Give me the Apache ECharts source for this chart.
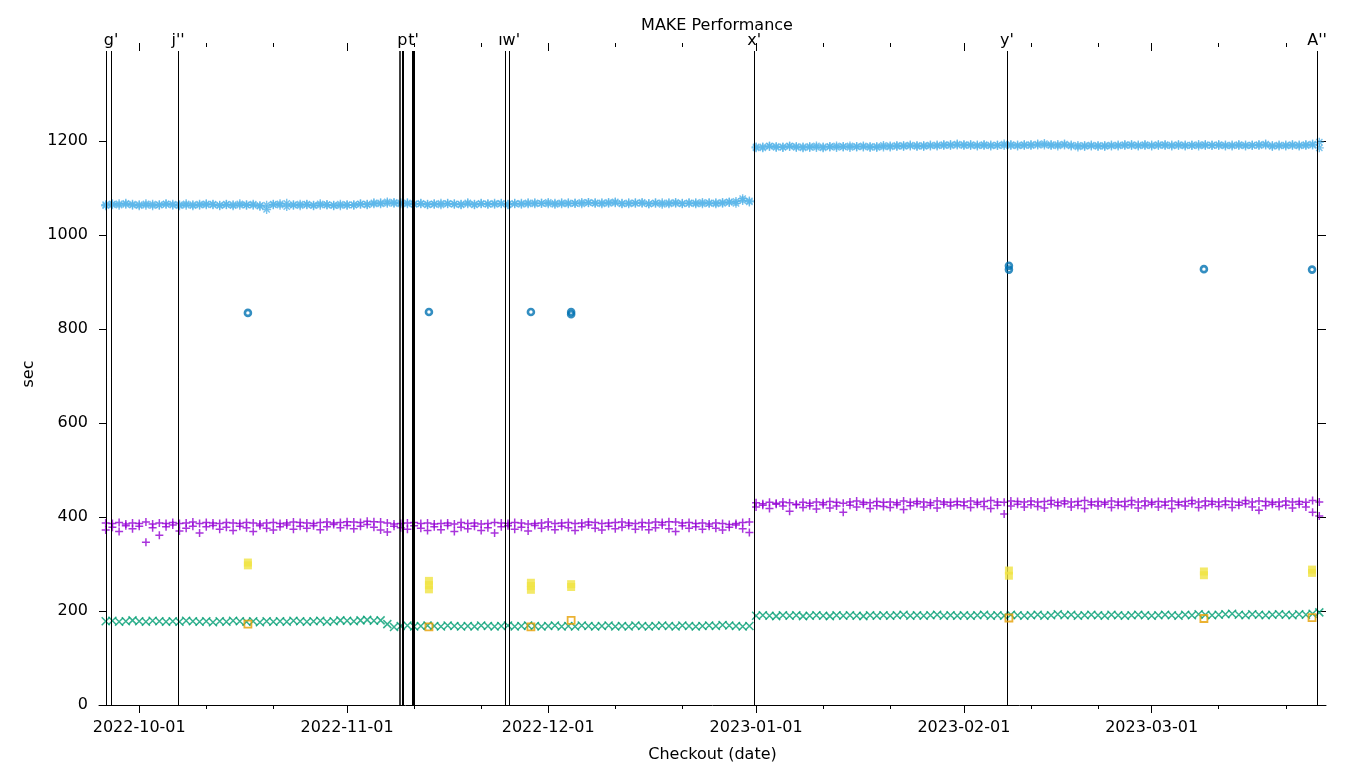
<!DOCTYPE html>
<html>
<head>
<meta charset="utf-8">
<script src="https://cdn.jsdelivr.net/npm/echarts@6/dist/echarts.min.js"></script>
<style>html,body{margin:0;padding:0;background:#fff}#c{width:1360px;height:768px}</style>
</head>
<body>
<div id="c"></div>
<script>
// ---------- data ----------
const firstDay = '2022-09-26';           // one checkout per day from here
const xMin = '2022-09-25';
const xMax = '2023-03-27';

const blueRuns = [
 1062,1064,1066,1065,1063,
 1064,1063,1062,1064,1065,1063,1062,1063,1064,1063,
 1064,1065,1063,1064,1062,1063,1064,1063,1062,1054,
 1064,1066,1060,1063,1065,1064,1062,1063,1064,1063,1062,
 1063,1064,1065,1064,1066,1068,1067,1069,1068,1066,
 1065,1066,1064,1065,1067,1066,1065,1064,1066,1065,
 1066,1065,1067,1066,1065,1066,1067,1066,1068,1067,
 1066,1067,1068,1066,1067,1069,1068,1067,1068,1069,
 1068,1067,1066,1068,1067,1066,1067,1068,1066,1067,
 1066,1067,1068,1066,1067,1068,1069,1070,1067,1077,1072,
 1185,1187,1188,1186,1187,1189,1186,1187,1188,1186,
 1187,1188,1186,1187,1189,1188,1187,1186,1188,1190,
 1189,1188,1190,1189,1188,1190,1191,1189,1190,1192,1191,
 1190,1192,1191,1190,1189,1191,1190,1192,1191,1190,
 1192,1193,1191,1190,1192,1191,1189,1190,1188,1189,
 1190,1188,1189,1191,1190,1192,1191,1190,
 1191,1190,1192,1191,1190,1189,1191,1192,1190,1191,
 1190,1191,1189,1190,1191,1190,1192,1191,1190,1189,
 1191,1190,1189,1192,1191,1197
];

const blueReruns = [
 1064,1066,1063,1067,1065,1062,1066,1065,1063,1066,
 1065,1064,1066,1062,1065,1066,1064,1062,1065,1064,
 1066,1063,1065,1061,1063,1065,1063,1067,1064,1062,
 1065,1063,1066,1064,1062,1065,1064,1063,1066,1065,
 1068,1066,1070,1067,1066,1068,1066,1067,1065,1066,
 1064,1067,1066,1065,1068,1064,1067,1066,1065,1067,
 1064,1067,1065,1068,1066,1067,1069,1065,1066,1068,
 1067,1066,1069,1068,1066,1067,1070,1066,1068,1067,
 1069,1066,1068,1065,1068,1069,1067,1068,1066,1069,
 1068,1066,1067,1069,1071,1073,1070,
 1187,1185,1189,1188,1186,1188,1188,1185,1186,1189,
 1185,1187,1189,1188,1186,1187,1189,1188,1186,1187,
 1187,1190,1188,1191,1190,1188,1189,1191,1192,1190,1193,
 1192,1190,1189,1192,1191,1190,1193,1190,1189,1192,
 1190,1191,1194,1192,1189,1193,1191,1187,1190,1191,
 1188,1190,1191,1189,1192,1190,1189,1192,
 1189,1192,1190,1189,1192,1191,1190,1189,1192,1190,
 1192,1189,1191,1192,1189,1191,1190,1193,1188,1191,
 1189,1192,1191,1190,1193,1185
];

const greenRuns = [
 178,179,177,178,180,178,177,179,178,177,
 178,177,179,178,177,178,176,178,177,179,
 178,177,178,176,178,177,178,177,179,178,
 177,178,179,177,178,180,179,178,180,181,179,180,172,166,
 168,169,167,168,169,168,167,169,168,167,
 168,167,169,168,167,168,169,167,168,169,
 168,167,168,169,167,168,167,169,168,167,
 168,169,167,168,167,169,168,167,168,169,
 168,167,169,168,167,168,169,168,170,169,168,167,168,
 190,191,190,189,191,190,191,189,190,191,
 190,189,191,190,191,190,189,191,190,191,
 190,191,192,190,191,190,191,192,190,191,190,
 191,190,191,192,190,191,190,192,191,190,
 191,192,190,191,193,191,192,190,191,192,
 191,190,192,191,190,191,192,191,
 190,191,192,191,190,192,191,193,192,191,
 192,193,194,192,191,193,192,191,192,193,
 192,191,193,192,194,197
];

const purpleRuns = [
 387,386,388,385,387,386,389,385,387,386,
 388,386,387,389,386,388,387,386,388,387,
 386,388,387,385,387,388,386,387,389,388,
 387,386,388,389,387,388,390,389,388,391,
 390,389,387,385,386,387,388,386,387,385,
 386,387,385,388,386,387,385,386,388,387,
 386,388,387,385,386,387,389,386,387,388,
 386,387,389,388,386,387,388,389,387,386,
 388,387,389,388,390,389,387,388,386,387,
 385,387,386,384,386,388,389,
 430,428,431,429,432,430,427,431,429,432,
 430,433,431,429,432,434,431,430,433,431,
 432,430,434,431,433,432,430,434,432,431,433,
 432,434,431,433,435,432,431,434,433,432,
 434,432,433,435,431,434,432,433,435,432,
 433,431,434,432,433,435,432,434,
 431,433,432,434,431,433,435,432,434,433,
 432,434,433,431,435,432,434,433,431,432,
 434,432,433,431,435,432
];

const purpleReruns = [
 372,378,369,381,375,380,346,377,361,379,
 383,370,376,380,366,379,382,374,378,371,
 380,377,369,381,376,372,379,383,374,380,
 376,381,373,379,384,377,382,375,380,384,
 378,372,368,380,377,374,381,376,371,379,
 373,382,369,378,375,380,371,377,366,379,
 381,374,378,370,382,376,379,373,380,377,
 371,379,383,376,372,380,375,378,382,374,
 379,373,377,383,375,369,381,376,379,374,
 380,376,372,378,383,375,367,
 421,425,418,427,423,412,426,420,424,417,
 426,419,423,410,425,421,427,418,424,422,
 420,426,416,424,428,421,425,419,427,423,426,
 424,420,427,422,418,425,406,423,427,421,
 426,422,419,427,424,428,421,425,418,426,
 423,427,420,425,422,426,419,424,
 427,421,425,418,426,423,428,420,424,427,
 422,426,420,425,428,421,414,424,427,422,
 425,419,427,421,410,402
];

const sparseDates = ['2022-10-17 05:00','2022-11-13 05:00','2022-11-28 10:00','2022-12-04 10:00',
                     '2023-02-07 17:00','2023-03-08 19:00','2023-03-24 22:00'];
const circleRuns = [[834],[836],[836],[831,836],[926,934],[927],[926]];
const yellowRuns = [[297,303],[246,255,264],[245,253,260],[251,257],[275,286],[276,284],[281,288]];
const orangeRuns = [172,166,166,180,185,184,186];

const releaseDates = ['2022-09-26 01:00','2022-09-26 19:00','2022-10-06 19:00',
                      '2022-11-08 20:00','2022-11-09 06:00','2022-11-10 22:00',
                      '2022-11-24 15:00','2022-11-25 04:00','2022-12-31 17:00',
                      '2023-02-07 10:00','2023-03-25 16:00'];
const releaseLabels = ['', "g'", "j''", '', 'p', "t'", '', "ıw'", "x'", "y'", "A''"];
const releaseTop = 1391;

const monthTicks = ['2022-10-01','2022-11-01','2022-12-01','2023-01-01','2023-02-01','2023-03-01'];
const minorTicks = ['2022-10-11','2022-10-21','2022-11-11','2022-11-21','2022-12-11','2022-12-21',
                    '2023-01-11','2023-01-21','2023-02-11','2023-02-21','2023-03-11','2023-03-21'];
const yTicks = [0,200,400,600,800,1000,1200];
const yMax = 1408;

// ---------- helpers ----------
function ts(s){ return new Date(s.length === 10 ? s + 'T00:00:00' : s.replace(' ','T') + ':00').getTime(); }
const DAY = 86400000;
const t0 = ts(firstDay);
const daily = arr => arr.map((v,i) => [t0 + i*DAY, v]);
const sparse = arr => { const out=[]; arr.forEach((vs,i)=>{ [].concat(vs).forEach(v=>out.push([ts(sparseDates[i]), v])); }); return out; };
function fmt(v){ const d=new Date(v); const p=n=>String(n).padStart(2,'0'); return d.getFullYear()+'-'+p(d.getMonth()+1)+'-'+p(d.getDate()); }

const lineWidthFor = {'2022-11-08 20:00':1.5,'2022-11-09 06:00':2,'2022-11-10 22:00':3};

const FONT = 'DejaVu Sans';
const PLUS = 'path://M0,5L10,5M5,0L5,10';
const CROSS = 'path://M0,0L10,10M10,0L0,10';
const STAR = 'path://M0,5L10,5M5,0L5,10M1.5,1.5L8.5,8.5M8.5,1.5L1.5,8.5';

const strokeSym = (c, w) => ({ color: c, borderColor: c, borderWidth: w });

const baseX = {
  type: 'value', min: ts(xMin), max: ts(xMax), gridIndex: 0, scale: true,
  splitLine: { show: false }, axisPointer: { show: false }
};

const chart = echarts.init(document.getElementById('c'));
chart.setOption({
  animation: false,
  backgroundColor: '#fff',
  textStyle: { fontFamily: FONT },
  title: {
    text: 'MAKE Performance', left: 712, top: 13, textAlign: 'center',
    textStyle: { fontFamily: FONT, fontSize: 16, fontWeight: 'normal', color: '#000' }
  },
  grid: { left: 99, right: 34, top: 43, bottom: 62, containLabel: false },
  xAxis: [
    Object.assign({}, baseX, {
      position: 'bottom',
      name: 'Checkout (date)', nameLocation: 'middle', nameGap: 42,
      nameTextStyle: { fontFamily: FONT, fontSize: 16, color: '#000' },
      axisLine: { show: true, onZero: false, lineStyle: { color: '#000', width: 1 } },
      axisTick: { show: true, inside: false, length: 8, customValues: monthTicks.map(ts), lineStyle: { color: '#000' } },
      axisLabel: { show: true, customValues: monthTicks.map(ts), formatter: v => fmt(v), margin: 15,
                   fontFamily: FONT, fontSize: 16, color: '#000' }
    }),
    Object.assign({}, baseX, {
      position: 'bottom',
      axisLine: { show: false, onZero: false },
      axisTick: { show: true, inside: false, length: 4, customValues: minorTicks.map(ts), lineStyle: { color: '#000' } },
      axisLabel: { show: false, customValues: minorTicks.map(ts) }
    }),
    Object.assign({}, baseX, {
      position: 'top',
      axisLine: { show: false, onZero: false },
      axisTick: { show: true, inside: true, length: 8, customValues: monthTicks.map(ts), lineStyle: { color: '#000' } },
      axisLabel: { show: false, customValues: monthTicks.map(ts) }
    }),
    Object.assign({}, baseX, {
      position: 'top',
      axisLine: { show: false, onZero: false },
      axisTick: { show: true, inside: true, length: 4, customValues: minorTicks.map(ts), lineStyle: { color: '#000' } },
      axisLabel: { show: false, customValues: minorTicks.map(ts) }
    })
  ],
  yAxis: [
    {
      type: 'value', min: 0, max: yMax, position: 'left',
      name: 'sec', nameLocation: 'middle', nameGap: 61,
      nameTextStyle: { fontFamily: FONT, fontSize: 16, color: '#000' },
      axisLine: { show: false },
      axisTick: { show: true, inside: true, length: 7, customValues: yTicks, lineStyle: { color: '#000' } },
      axisLabel: { show: true, customValues: yTicks, formatter: v => String(v), margin: 11,
                   fontFamily: FONT, fontSize: 16, color: '#000' },
      splitLine: { show: false }
    },
    {
      type: 'value', min: 0, max: yMax, position: 'right',
      axisLine: { show: false },
      axisTick: { show: true, inside: true, length: 8, customValues: yTicks, lineStyle: { color: '#000' } },
      axisLabel: { show: false, customValues: yTicks },
      splitLine: { show: false }
    }
  ],
  series: [
    { type: 'scatter', name: 'purple', data: daily(purpleRuns).concat(daily(purpleReruns)),
      symbol: PLUS, symbolSize: 8, itemStyle: strokeSym('#9400d3', 1.5), z: 2 },
    { type: 'scatter', name: 'green', data: daily(greenRuns),
      symbol: CROSS, symbolSize: 8, itemStyle: strokeSym('#009e73', 1.5), z: 3 },
    { type: 'scatter', name: 'blue', data: daily(blueRuns).concat(daily(blueReruns)),
      symbol: STAR, symbolSize: 9, itemStyle: strokeSym('#56b4e9', 1.4), z: 4 },
    { type: 'scatter', name: 'orange', data: sparse(orangeRuns),
      symbol: 'rect', symbolSize: 7, itemStyle: { color: 'rgba(0,0,0,0)', borderColor: '#e69f00', borderWidth: 1.8 }, z: 5 },
    { type: 'scatter', name: 'yellow', data: sparse(yellowRuns),
      symbol: 'rect', symbolSize: 8, itemStyle: { color: '#f0e442' }, z: 6 },
    { type: 'scatter', name: 'darkblue', data: sparse(circleRuns),
      symbol: 'circle', symbolSize: 6, itemStyle: { color: 'rgba(0,0,0,0)', borderColor: '#0072b2', borderWidth: 2.6 }, z: 7 },
    { type: 'scatter', name: 'releases', data: [], z: 10, silent: true,
      markLine: {
        silent: true, symbol: ['none','none'], animation: false,
        data: releaseDates.map((d, i) => [
          { coord: [ts(d), 0], name: releaseLabels[i],
            lineStyle: { color: '#000', type: 'solid', width: lineWidthFor[d] || 1 },
            label: { show: releaseLabels[i] !== '', position: 'end', formatter: '{b}', distance: 2,
                     fontFamily: FONT, fontSize: 16, color: '#000' },
            emphasis: { disabled: true } },
          { coord: [ts(d), releaseTop] }
        ])
      }
    }
  ]
});
</script>
</body>
</html>
